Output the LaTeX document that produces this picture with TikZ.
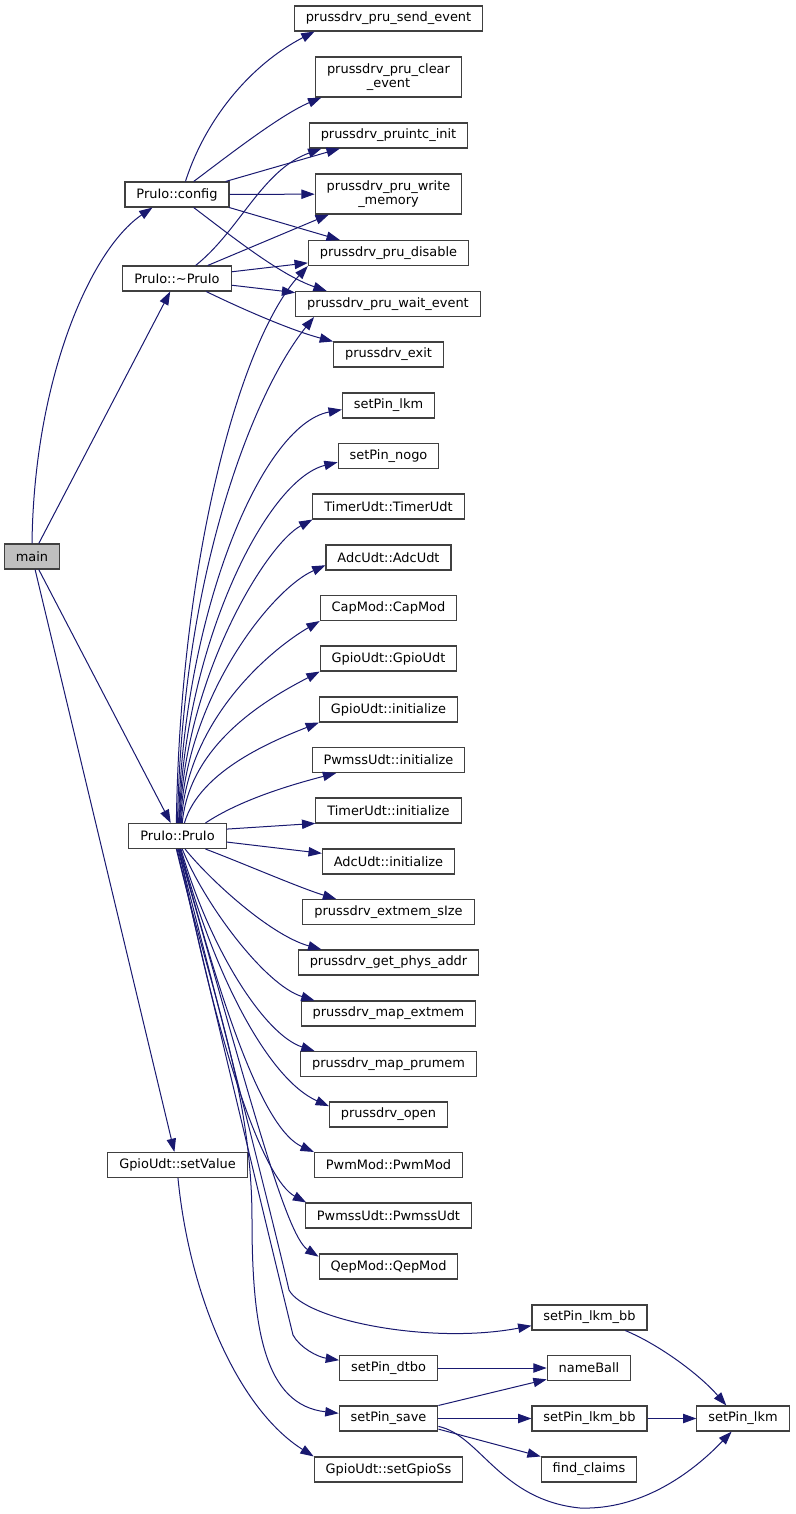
\documentclass[tikz,border=0pt]{standalone}
\usepackage{fontspec}
\setmainfont{DejaVu Sans}
\usepackage{tikz}
\usetikzlibrary{shapes, arrows.meta}
\definecolor{edgeblue}{HTML}{191970}
\definecolor{boxline}{HTML}{404040}
\definecolor{mainfill}{HTML}{BFBFBF}

\begin{document}
\begin{tikzpicture}[x=0.75pt, y=-0.75pt,
	box/.style={draw=boxline, line width=0.8pt, fill=white, font=\fontsize{9.7}{10}\selectfont,
		inner xsep=8.6pt, inner ysep=4pt, minimum height=18.75pt},
	box2/.style={box, align=center, minimum height=30pt},
	edge/.style={draw=edgeblue, line width=0.75pt, -{Triangle[length=10pt,width=7pt]}}]
	\useasboundingbox (0,0) rectangle (796,1514);
	% callers
	\node[box, fill=mainfill] (main) at (32,556.5) {main};
	\node[box] (config) at (177,194.5) {PruIo::config};
	\node[box] (dtor) at (177,278.5) {PruIo::\textasciitilde PruIo};
	\node[box] (ctor) at (177.5,836) {PruIo::PruIo};
	\node[box] (setval) at (177.5,1165) {GpioUdt::setValue};
	% callees
	\node[box] (sendev) at (388.5,18.5) {prussdrv\_pru\_send\_event};
	\node[box2] (clearev) at (388.5,77) {prussdrv\_pru\_clear\\\_event};
	\node[box] (intc) at (388.5,135.5) {prussdrv\_pruintc\_init};
	\node[box2] (wmem) at (388.5,194) {prussdrv\_pru\_write\\\_memory};
	\node[box] (pdis) at (388.5,253) {prussdrv\_pru\_disable};
	\node[box] (wait) at (388,304) {prussdrv\_pru\_wait\_event};
	\node[box] (pexit) at (388.5,354.5) {prussdrv\_exit};
	\node[box] (lkm) at (388.5,405.5) {setPin\_lkm};
	\node[box] (nogo) at (388.5,456) {setPin\_nogo};
	\node[box] (tudt) at (388.5,506.5) {TimerUdt::TimerUdt};
	\node[box] (audt) at (388.5,557.5) {AdcUdt::AdcUdt};
	\node[box] (cap) at (388.5,608) {CapMod::CapMod};
	\node[box] (gudt) at (388.5,658.5) {GpioUdt::GpioUdt};
	\node[box] (ginit) at (388.5,709.5) {GpioUdt::initialize};
	\node[box] (psinit) at (388.5,760) {PwmssUdt::initialize};
	\node[box] (tinit) at (388.5,810.5) {TimerUdt::initialize};
	\node[box] (ainit) at (388.5,861.5) {AdcUdt::initialize};
	\node[box] (extsz) at (388.5,912) {prussdrv\_extmem\_sIze};
	\node[box] (phys) at (388.5,962.5) {prussdrv\_get\_phys\_addr};
	\node[box] (mext) at (388.5,1013.5) {prussdrv\_map\_extmem};
	\node[box] (mpru) at (388.5,1064) {prussdrv\_map\_prumem};
	\node[box] (popen) at (388.5,1114.5) {prussdrv\_open};
	\node[box] (pwm) at (388.5,1165) {PwmMod::PwmMod};
	\node[box] (pss) at (388.5,1215.5) {PwmssUdt::PwmssUdt};
	\node[box] (qep) at (388.5,1266.5) {QepMod::QepMod};
	\node[box] (bbtop) at (589.5,1317.5) {setPin\_lkm\_bb};
	\node[box] (dtbo) at (388.5,1368) {setPin\_dtbo};
	\node[box] (nball) at (589,1368) {nameBall};
	\node[box] (save) at (388.5,1418.5) {setPin\_save};
	\node[box] (bblow) at (589.5,1418.5) {setPin\_lkm\_bb};
	\node[box] (lkmr) at (743,1418.5) {setPin\_lkm};
	\node[box] (gss) at (388.5,1469.5) {GpioUdt::setGpioSs};
	\node[box] (claims) at (589,1469.5) {find\_claims};
	% main
	\draw[edge] (main.north) .. controls (34,380) and (90,250) .. (config.-152);
	\draw[edge] (main) -- (dtor);
	\draw[edge] (main) -- (ctor);
	\draw[edge] (main) -- (setval);
	% PruIo::config
	\draw[edge] (config.57) .. controls (205,120) and (250,65) .. (sendev.-170);
	\draw[edge] (config.38) .. controls (225,158) and (280,115) .. (clearev.-163);
	\draw[edge] (config.15) -- (intc.-165);
	\draw[edge] (config) -- (wmem);
	\draw[edge] (config.-14) -- (pdis.165);
	\draw[edge] (config.-38) .. controls (230,235) and (280,275) .. (wait.168);
	% PruIo::~PruIo
	\draw[edge] (dtor.35) .. controls (240,230) and (262,170) .. (intc.-169);
	\draw[edge] (dtor.23) -- (wmem.-161);
	\draw[edge] (dtor.7) -- (pdis.-173);
	\draw[edge] (dtor.-7) -- (wait.173);
	\draw[edge] (dtor.-24) .. controls (240,308) and (290,330) .. (pexit.north west);
	% PruIo::PruIo
	\draw[edge] (ctor.95) .. controls (180,560) and (240,340) .. (pdis.south west);
	\draw[edge] (ctor.90) .. controls (182,570) and (255,390) .. (wait.-170);
	\draw[edge] (ctor.85) .. controls (182,620) and (260,425) .. (lkm.-175);
	\draw[edge] (ctor.82) .. controls (183,650) and (265,480) .. (nogo.-173);
	\draw[edge] (ctor.80) .. controls (184,680) and (265,545) .. (tudt.south west);
	\draw[edge] (ctor.77) .. controls (185,700) and (270,590) .. (audt.-173);
	\draw[edge] (ctor.74) .. controls (187,720) and (270,650) .. (cap.south west);
	\draw[edge] (ctor.70) .. controls (190,740) and (275,695) .. (gudt.south west);
	\draw[edge] (ctor.62) .. controls (200,770) and (275,740) .. (ginit.south west);
	\draw[edge] (ctor.25) .. controls (240,800) and (290,785) .. (psinit.-166);
	\draw[edge] (ctor.8) -- (tinit.-170);
	\draw[edge] (ctor.-7) -- (ainit.173);
	\draw[edge] (ctor.-25) .. controls (240,862) and (300,888) .. (extsz.166);
	\draw[edge] (ctor.-60) .. controls (210,880) and (270,935) .. (phys.169);
	\draw[edge] (ctor.-70) .. controls (205,905) and (265,985) .. (mext.170);
	\draw[edge] (ctor.-75) .. controls (210,950) and (265,1035) .. (mpru.170);
	\draw[edge] (ctor.-78) .. controls (215,980) and (270,1080) .. (popen.172);
	\draw[edge] (ctor.-80) .. controls (225,1020) and (265,1130) .. (pwm.north west);
	\draw[edge] (ctor.-83) .. controls (220,1060) and (265,1180) .. (pss.171);
	\draw[edge] (ctor.-85) .. controls (245,1080) and (285,1235) .. (qep.172);
	\draw[edge] (ctor.-88) .. controls (230,1050) and (280,1250) .. (289,1290)
		.. controls (305,1320) and (430,1345) .. (bbtop.-172);
	\draw[edge] (ctor.-92) .. controls (224,1050) and (282,1290) .. (293,1335)
		.. controls (300,1348) and (318,1357) .. (dtbo.171);
	\draw[edge] (ctor.-95) .. controls (210,990) and (252,1090) .. (252,1220)
		.. controls (252,1330) and (265,1405) .. (save.174);
	% GpioUdt::setValue
	\draw[edge] (setval.-88) .. controls (190,1300) and (240,1410) .. (gss.north west);
	% setPin helpers
	\draw[edge] (bbtop.-20) .. controls (660,1345) and (700,1375) .. (lkmr.142);
	\draw[edge] (dtbo) -- (nball);
	\draw[edge] (save.north east) -- (nball.-165);
	\draw[edge] (save) -- (bblow);
	\draw[edge] (bblow) -- (lkmr);
	\draw[edge] (save.-12) -- (claims.north west);
	\draw[edge] (save.-9) .. controls (480,1435) and (500,1500) .. (580,1508)
		.. controls (640,1510) and (690,1475) .. (lkmr.-131);
\end{tikzpicture}
\end{document}
